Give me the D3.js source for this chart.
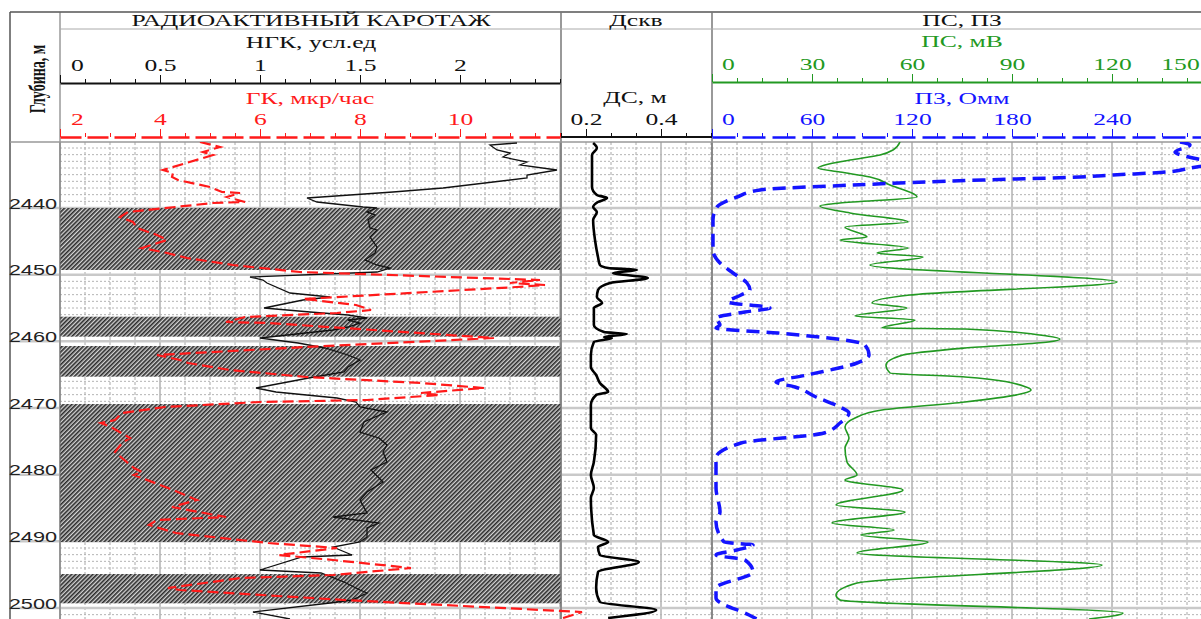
<!DOCTYPE html>
<html>
<head>
<meta charset="utf-8">
<script src="https://cdn.jsdelivr.net/npm/d3@7"></script>
<style>
  body { margin: 0; background: #fff; }
  svg { display: block; }
</style>
</head>
<body>
<div id="chart"></div>
<script>
// ---- data (depth m, value) ----
var depthTicks = [2440, 2450, 2460, 2470, 2480, 2490, 2500];

// intervals with hatching (collectors)
var layers = [[2440, 2449.3], [2456.3, 2459.3], [2460.7, 2465.3], [2469.4, 2490.1], [2494.9, 2499.3]];

// ГК, мкр/час
var gk = [[2430.1,4.8],[2430.85,5.2],[2431.6,4.86],[2432.05,5.06],[2434.3,4.06],[2434.75,4.26],[2435.35,4.24],
  [2435.8,4.36],[2436.85,5.0],[2437.6,5.24],[2437.75,5.6],[2438.35,5.34],[2439.1,5.7],[2439.25,5.06],
  [2440.3,3.74],[2440.6,3.36],[2441.35,3.2],[2442.1,3.46],[2443.0,3.54],[2444.05,3.94],[2444.8,4.14],
  [2446.0,3.64],[2446.75,4.14],[2447.5,4.54],[2448.55,5.46],[2449.6,6.8],[2450.8,11.6],[2451.25,11.0],
  [2451.55,11.7],[2451.85,11.14],[2453.65,6.86],[2453.8,7.06],[2454.55,7.92],[2455.3,8.22],[2455.75,7.54],
  [2456.35,5.7],[2457.1,5.32],[2457.25,6.16],[2459.5,10.68],[2460.85,6.92],[2462.05,3.94],[2462.8,4.4],
  [2463.25,4.56],[2464.3,5.4],[2465.35,6.92],[2466.25,9.22],[2467.0,10.48],[2467.75,9.22],[2468.05,9.6],
  [2468.8,8.14],[2469.1,6.0],[2469.85,4.1],[2470.75,3.24],[2471.8,3.1],[2472.25,2.82],[2472.85,3.02],
  [2474.5,3.4],[2475.25,3.24],[2476.6,3.1],[2477.5,3.24],[2479.0,3.48],[2479.6,3.64],[2480.05,3.48],
  [2482.0,4.16],[2483.8,4.74],[2484.85,4.24],[2486.35,5.32],[2486.8,3.94],[2487.55,3.78],[2488.75,4.32],
  [2490.25,6.16],[2491.0,7.54],[2492.05,6.38],[2492.8,7.46],[2494.0,9.02],[2495.05,7.46],[2495.5,5.62],
  [2497.0,4.16],[2497.3,4.4],[2498.8,7.68],[2500.6,12.44],[2501.65,12.0]];

// НГК, усл.ед
var ngk = [[2430.25,2.285],[2430.55,2.15],[2431.3,2.185],[2431.75,2.25],[2432.35,2.215],[2433.1,2.335],
  [2433.55,2.3],[2434.3,2.485],[2435.05,2.335],[2435.5,2.335],[2437.0,1.915],[2437.6,1.665],[2438.5,1.235],
  [2439.1,1.285],[2439.85,1.515],[2440.0,1.585],[2440.6,1.535],[2441.05,1.575],[2441.8,1.54],[2443.0,1.55],
  [2443.3,1.585],[2444.35,1.55],[2445.85,1.585],[2446.75,1.575],[2447.8,1.525],[2448.55,1.585],[2449.0,1.65],
  [2449.6,1.585],[2450.35,0.95],[2450.8,1.015],[2451.25,1.035],[2452.75,1.15],[2453.35,1.35],[2453.8,1.215],
  [2455.0,1.02],[2455.6,1.25],[2456.05,1.44],[2456.5,1.535],[2456.8,1.44],[2457.25,1.5],[2457.85,1.44],
  [2458.3,1.365],[2459.5,1.0],[2460.25,1.19],[2461.0,1.325],[2462.05,1.44],[2462.8,1.5],[2463.85,1.44],
  [2464.6,1.42],[2465.35,1.27],[2467.0,0.98],[2467.6,1.08],[2468.5,1.385],[2469.1,1.48],[2469.85,1.5],
  [2470.6,1.635],[2471.35,1.575],[2472.1,1.52],[2473.6,1.5],[2474.5,1.595],[2475.55,1.635],[2476.6,1.615],
  [2478.1,1.635],[2479.3,1.555],[2481.1,1.615],[2482.6,1.535],[2483.8,1.5],[2485.75,1.535],[2486.35,1.365],
  [2487.25,1.595],[2488.0,1.535],[2489.35,1.535],[2490.1,1.5],[2490.85,1.365],[2492.05,1.46],[2492.35,1.21],
  [2494.3,1.0],[2494.75,1.305],[2496.1,1.42],[2497.3,1.5],[2497.75,1.535],[2498.8,1.46],[2499.25,1.35],
  [2500.6,0.965],[2501.65,1.15]];

// ДС, м
var ds = [[2430.25,0.219],[2431.0,0.229],[2432.05,0.216],[2436.85,0.216],[2438.05,0.229],[2438.5,0.256],
  [2439.1,0.232],[2439.85,0.219],[2440.6,0.229],[2441.8,0.219],[2444.8,0.224],[2447.35,0.232],[2448.55,0.237],
  [2449.0,0.259],[2449.3,0.336],[2449.75,0.272],[2450.5,0.365],[2451.25,0.264],[2452.3,0.232],[2453.35,0.229],
  [2454.25,0.243],[2455.0,0.221],[2457.55,0.221],[2458.6,0.248],[2458.9,0.309],[2459.35,0.248],[2459.5,0.269],
  [2460.1,0.221],[2462.05,0.213],[2463.85,0.213],[2465.05,0.227],[2466.25,0.237],[2467.6,0.259],[2468.05,0.227],
  [2469.55,0.213],[2473.0,0.213],[2474.05,0.227],[2478.1,0.221],[2480.05,0.213],[2482.0,0.221],[2483.5,0.213],
  [2489.05,0.221],[2490.1,0.259],[2490.85,0.232],[2492.05,0.237],[2493.1,0.341],[2494.6,0.232],[2497.0,0.227],
  [2499.1,0.237],[2500.3,0.387],[2501.5,0.259]];

// ПС, мВ
var ps = [[2430.1,56.4],[2431.3,54.3],[2432.05,50.4],[2432.8,41.4],[2433.55,33.9],[2434.0,31.8],[2434.6,38.4],
  [2435.35,47.4],[2436.55,53.4],[2438.35,61.5],[2439.25,38.4],[2439.7,32.4],[2440.75,41.4],[2442.1,58.8],
  [2442.85,39.9],[2444.35,46.5],[2444.8,38.4],[2446.0,58.8],[2446.75,49.5],[2447.35,63.3],[2448.55,47.4],
  [2451.1,121.5],[2453.05,59.4],[2454.25,48.0],[2455.0,58.5],[2456.2,42.9],[2456.8,60.9],[2458.0,51.0],
  [2458.15,75.9],[2459.2,100.5],[2459.65,104.4],[2460.1,100.8],[2461.0,75.9],[2462.05,57.3],[2463.55,52.2],
  [2464.75,53.4],[2465.35,75.9],[2466.8,94.0],[2467.3,95.7],[2467.8,93.5],[2469.1,75.9],[2470.3,51.0],
  [2471.5,42.9],[2472.85,39.9],[2474.5,41.1],[2476.0,39.9],
  [2478.1,40.5],[2480.05,43.5],[2480.8,39.9],[2482.3,57.3],[2484.55,37.2],[2485.6,57.9],[2487.25,36.0],
  [2488.3,54.6],[2489.05,44.7],[2490.1,64.8],[2491.75,43.5],[2493.55,117.0],[2496.25,43.5],[2498.05,37.2],
  [2498.8,38.4],[2500.75,123.3],[2501.65,113.1]];

// ПЗ, Омм
var pz = [[2430.1,280.8],[2430.55,286.8],[2431.6,277.8],[2432.5,288.6],[2433.25,301.8],[2434.0,286.8],
  [2434.6,273.0],[2435.05,240.6],[2435.35,220.8],[2435.8,162.6],[2436.55,84.6],[2437.3,28.8],[2438.35,15.0],
  [2439.85,3.0],[2441.8,0.6],[2446.3,0.6],[2448.25,4.8],[2449.75,12.6],[2451.25,21.0],[2452.3,22.8],
  [2453.05,17.4],[2454.1,9.6],[2455.0,34.8],[2455.6,19.8],[2456.5,2.4],[2457.55,4.8],[2458.0,2.4],
  [2458.75,39.6],[2460.55,91.8],[2462.05,94.2],[2463.25,87.0],[2465.05,57.0],[2466.1,38.4],[2466.85,49.8],
  [2468.35,62.4],[2469.85,76.8],[2470.75,82.2],[2472.25,76.8],[2473.75,67.2],[2475.25,17.4],[2477.5,2.4],
  [2482.0,2.4],[2485.6,4.8],[2487.1,2.4],[2490.1,7.2],[2490.55,24.6],[2491.3,15.0],[2492.05,2.4],
  [2492.8,19.8],[2494.6,24.6],[2497.0,2.4],[2498.5,2.4],[2501.05,22.2],[2501.65,27.0]];

// axis tick labels
var ngkTicks = [0, 0.5, 1, 1.5, 2];
var gkTicks = [2, 4, 6, 8, 10];
var dsTicks = [0.2, 0.4];
var psTicks = [0, 30, 60, 90, 120, 150];
var pzTicks = [0, 60, 120, 180, 240];

// ---- layout ----
var W = 1201, H = 619;
var SX = 1.6;          // the scan is stretched sideways
var serif = "'Liberation Serif', 'Times New Roman', serif";
var sans = "'Liberation Sans', Arial, sans-serif";
var RED = "#ff1a1a", GREEN = "#229922", BLUE = "#1414ff";

var bodyTop = 142, bodyBottom = H;
var t1 = [60, 561], t2 = [561, 712], t3 = [712, 1212];

var y = d3.scaleLinear().domain([2440, 2500]).range([208, 608]);
var ngkX = d3.scaleLinear().domain([0, 2.5]).range([60, 560]);
var gkX = d3.scaleLinear().domain([2, 12]).range([60, 560]);
var dsX = d3.scaleLinear().domain([0.2, 0.4]).range([586, 661]);
var psX = d3.scaleLinear().domain([0, 150]).range([712, 1212]);
var pzX = d3.scaleLinear().domain([0, 300]).range([712, 1212]);

var svg = d3.select("#chart").append("svg")
    .attr("width", W).attr("height", H);

var defs = svg.append("defs");
var pat = defs.append("pattern").attr("id", "hatch")
    .attr("patternUnits", "userSpaceOnUse")
    .attr("width", 3).attr("height", 3)
    .attr("patternTransform", "rotate(45)");
pat.append("rect").attr("width", 3).attr("height", 3).attr("fill", "#d4d4d4");
pat.append("rect").attr("width", 1.6).attr("height", 3).attr("fill", "#2a2a2a");

defs.append("clipPath").attr("id", "body")
    .append("rect").attr("x", 60).attr("y", bodyTop).attr("width", W - 60).attr("height", bodyBottom - bodyTop);

// ---- body grid ----
var grid = svg.append("g");

function vgrid(x0, x1) {
    d3.range(x0, x1 + 1, 25).forEach(function(x, i) {
        grid.append("line")
            .attr("x1", x).attr("x2", x).attr("y1", bodyTop).attr("y2", bodyBottom)
            .attr("stroke", i % 4 == 0 ? "#8a8a8a" : "#a8a8a8")
            .attr("stroke-width", 1)
            .attr("stroke-dasharray", i % 4 == 0 ? null : "3,2");
    });
}
vgrid(ngkX(0), ngkX(2.5));
vgrid(t2[0], t2[1]);
vgrid(psX(0), psX(150));

// 1 m dotted lines
d3.range(2431, 2502).forEach(function(d) {
    if (d % 10 == 0) return;
    grid.append("line")
        .attr("x1", 60).attr("x2", W).attr("y1", y(d)).attr("y2", y(d))
        .attr("stroke", "#b4b4b4").attr("stroke-width", 1)
        .attr("stroke-dasharray", "2,2");
});
// 10 m lines
depthTicks.forEach(function(d) {
    grid.append("line")
        .attr("x1", 10).attr("x2", W).attr("y1", y(d)).attr("y2", y(d))
        .attr("stroke", "#c9c9c9").attr("stroke-width", 2.5);
});

// ---- hatched intervals ----
svg.append("g").selectAll("rect")
    .data(layers).enter().append("rect")
    .attr("x", t1[0]).attr("width", t1[1] - t1[0])
    .attr("y", function(d) { return y(d[0]); })
    .attr("height", function(d) { return y(d[1]) - y(d[0]); })
    .attr("fill", "url(#hatch)");

// ---- frame ----
var frame = svg.append("g").attr("fill", "none");
frame.append("line").attr("x1", 10).attr("x2", W).attr("y1", 12).attr("y2", 12).attr("stroke", "#555").attr("stroke-width", 1.5);
frame.append("line").attr("x1", 10).attr("x2", 10).attr("y1", 12).attr("y2", H).attr("stroke", "#555").attr("stroke-width", 1.5);
frame.append("line").attr("x1", 60).attr("x2", 60).attr("y1", 12).attr("y2", H).attr("stroke", "#666").attr("stroke-width", 1);
frame.append("line").attr("x1", 561).attr("x2", 561).attr("y1", 12).attr("y2", H).attr("stroke", "#777").attr("stroke-width", 1.5);
frame.append("line").attr("x1", 712).attr("x2", 712).attr("y1", 12).attr("y2", H).attr("stroke", "#777").attr("stroke-width", 1.5);
frame.append("line").attr("x1", 60).attr("x2", W).attr("y1", 29).attr("y2", 29).attr("stroke", "#aaa").attr("stroke-width", 1);
frame.append("line").attr("x1", 10).attr("x2", W).attr("y1", bodyTop).attr("y2", bodyTop).attr("stroke", "#999").attr("stroke-width", 1.5);

// ---- curves ----
var curves = svg.append("g").attr("clip-path", "url(#body)").attr("fill", "none");

function path(data, xs, curve) {
    return d3.line()
        .curve(curve || d3.curveLinear)
        .x(function(d) { return xs(d[1]); })
        .y(function(d) { return y(d[0]); })(data);
}

curves.append("path").attr("d", path(ngk, ngkX))
    .attr("stroke", "#111").attr("stroke-width", 1.3);
curves.append("path").attr("d", path(gk, gkX))
    .attr("stroke", RED).attr("stroke-width", 2.2).attr("stroke-dasharray", "11,5");
curves.append("path").attr("d", path(ds, dsX, d3.curveMonotoneY))
    .attr("stroke", "#000").attr("stroke-width", 2.6).attr("stroke-linejoin", "round");
curves.append("path").attr("d", path(ps, psX, d3.curveMonotoneY))
    .attr("stroke", GREEN).attr("stroke-width", 1.6);
curves.append("path").attr("d", path(pz, pzX, d3.curveMonotoneY))
    .attr("stroke", BLUE).attr("stroke-width", 3.5).attr("stroke-dasharray", "13,7");

// ---- texts ----
function label(x, yy, str, opt) {
    opt = opt || {};
    var g = svg.append("g").attr("transform", "translate(" + x + "," + yy + ")");
    g.append("text")
        .attr("transform", "scale(" + SX + ",1)")
        .attr("text-anchor", "middle")
        .attr("font-family", opt.font || serif)
        .attr("font-size", opt.size || 16)
        .attr("font-weight", opt.weight || "normal")
        .attr("fill", opt.color || "#111")
        .text(str);
    return g;
}

label(311, 26, "РАДИОАКТИВНЫЙ КАРОТАЖ");
label(636, 26, "Дскв");
label(962, 26, "ПС, ПЗ");
label(311, 48, "НГК, усл.ед");
label(962, 47, "ПС, мВ", {color: GREEN});
label(310, 104, "ГК, мкр/час", {color: RED});
label(635, 103, "ДС, м");
label(962, 104, "ПЗ, Омм", {color: BLUE});

svg.append("g").attr("transform", "translate(37,79)")
    .append("text")
    .attr("transform", "scale(" + SX + ",1) rotate(-90)")
    .attr("text-anchor", "middle").attr("dy", "0.35em")
    .attr("font-family", serif).attr("font-size", 14).attr("font-weight", "bold")
    .attr("fill", "#111")
    .text("Глубина, м");

// ---- header scales ----
function scaleAxis(xs, yy, majors, minorStep, color, fmt, dashed, shifts) {
    var dom = xs.domain();
    var g = svg.append("g").attr("transform", "translate(0," + yy + ")");
    var minors = d3.range(dom[0], dom[1] + minorStep / 2, minorStep);
    g.append("g")
        .call(d3.axisTop(xs).tickValues(minors).tickSize(4).tickSizeOuter(0).tickFormat(""))
        .call(function(a) {
            a.select(".domain").remove();
            a.selectAll("line").attr("stroke", color);
        });
    var ax = g.append("g")
        .call(d3.axisTop(xs).tickValues(majors).tickSize(8).tickSizeOuter(0).tickPadding(4).tickFormat(fmt));
    ax.select(".domain")
        .attr("stroke", color).attr("stroke-width", dashed ? 2.5 : 2)
        .attr("stroke-dasharray", dashed);
    ax.selectAll("line").attr("stroke", color);
    ax.selectAll("text")
        .attr("font-family", serif).attr("font-size", 16)
        .attr("fill", color)
        .attr("transform", function(d, i) {
            var s = (shifts && shifts[i]) || 0;
            return "translate(" + s + ",0) scale(" + SX + ",1)";
        });
    return g;
}

scaleAxis(ngkX, 83, ngkTicks, 0.125, "#111", d3.format(""), null, {0: 17});
scaleAxis(gkX, 137, gkTicks, 0.5, RED, d3.format(""), "21,6", {0: 17});
scaleAxis(psX, 82, psTicks, 7.5, GREEN, d3.format(""), null, {0: 16, 5: -32});
scaleAxis(pzX, 137, pzTicks, 15, BLUE, d3.format(""), "23,7", {0: 16});

// ДС track: ticks every 25 px across the whole track
var dsAxis = svg.append("g").attr("transform", "translate(0,137)");
var dsMinor = d3.range(0, 7).map(function(i) { return dsX.invert(t2[0] + 25 * i); });
dsAxis.append("g")
    .call(d3.axisTop(dsX).tickValues(dsMinor).tickSize(4).tickSizeOuter(0).tickFormat(""))
    .call(function(a) { a.select(".domain").remove(); a.selectAll("line").attr("stroke", "#111"); });
var dsa = dsAxis.append("g")
    .call(d3.axisTop(dsX).tickValues(dsTicks).tickSize(8).tickPadding(4).tickFormat(d3.format(".1f")));
dsa.select(".domain").remove();
dsa.selectAll("text").attr("font-family", serif).attr("font-size", 16).attr("fill", "#111")
    .attr("transform", "scale(" + SX + ",1)");
dsa.selectAll("line").attr("stroke", "#111");
dsAxis.append("line").attr("x1", t2[0]).attr("x2", t2[1]).attr("y1", 0).attr("y2", 0)
    .attr("stroke", "#111").attr("stroke-width", 2);

// ---- depth labels ----
var dAx = svg.append("g").attr("transform", "translate(60,0)")
    .call(d3.axisLeft(y).tickValues(depthTicks).tickSize(0).tickPadding(2).tickFormat(d3.format("d")));
dAx.select(".domain").remove();
dAx.selectAll("text")
    .attr("dy", "0")
    .attr("font-family", sans).attr("font-size", 15).attr("fill", "#222")
    .attr("transform", "scale(1.45,1)");
</script>
</body>
</html>
